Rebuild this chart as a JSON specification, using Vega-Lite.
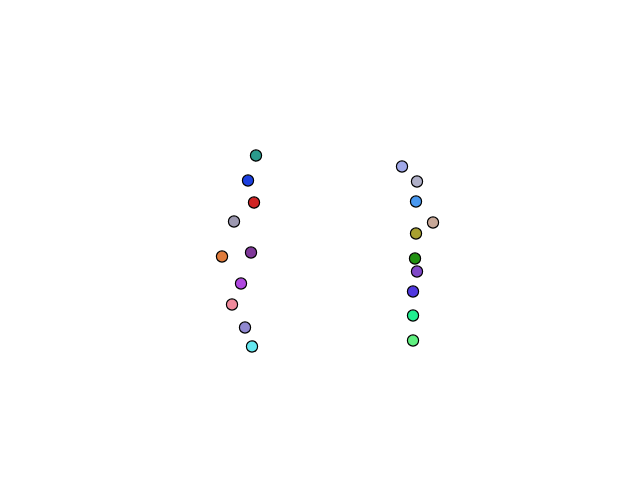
{
  "$schema": "https://vega.github.io/schema/vega-lite/v6.json",
  "width": 640,
  "height": 480,
  "autosize": {"type": "fit", "contains": "padding"},
  "padding": 0,
  "config": {"view": {"stroke": null}},
  "data": {"values": [
    {"id": "a1", "x": 255, "y": 155},
    {"id": "a2", "x": 247, "y": 180},
    {"id": "a3", "x": 253, "y": 202},
    {"id": "a4", "x": 233, "y": 221},
    {"id": "a5", "x": 250, "y": 252},
    {"id": "a6", "x": 221, "y": 256},
    {"id": "a7", "x": 240, "y": 283},
    {"id": "a8", "x": 231, "y": 304},
    {"id": "a9", "x": 244, "y": 327},
    {"id": "a10", "x": 251, "y": 346},
    {"id": "b1", "x": 401, "y": 166},
    {"id": "b2", "x": 416, "y": 181},
    {"id": "b3", "x": 415, "y": 201},
    {"id": "b4", "x": 432, "y": 222},
    {"id": "b5", "x": 415, "y": 233},
    {"id": "b6", "x": 414, "y": 258},
    {"id": "b7", "x": 416, "y": 271},
    {"id": "b8", "x": 412, "y": 291},
    {"id": "b9", "x": 412, "y": 315},
    {"id": "b10", "x": 412, "y": 340}
  ]},
  "mark": {"type": "point", "filled": true, "stroke": "black", "strokeWidth": 1.2, "opacity": 1, "size": 125},
  "encoding": {
    "x": {"field": "x", "type": "quantitative", "scale": {"domain": [-1, 639], "nice": false, "zero": false}, "axis": null},
    "y": {"field": "y", "type": "quantitative", "scale": {"domain": [-0.5, 479.5], "nice": false, "zero": false, "reverse": true}, "axis": null},
    "color": {"field": "id", "type": "nominal", "legend": null, "scale": {
      "domain": ["a1","a2","a3","a4","a5","a6","a7","a8","a9","a10","b1","b2","b3","b4","b5","b6","b7","b8","b9","b10"],
      "range": ["#2a9a8c","#1c40e0","#d02424","#9c98b0","#80389a","#e07c3c","#b048e0","#f08a9c","#9088d0","#64e8f0","#a0a8e8","#b0b0c8","#4898f0","#c8a898","#a8a030","#209010","#8048c8","#5038e0","#20f090","#60f080"]
    }}
  }
}
